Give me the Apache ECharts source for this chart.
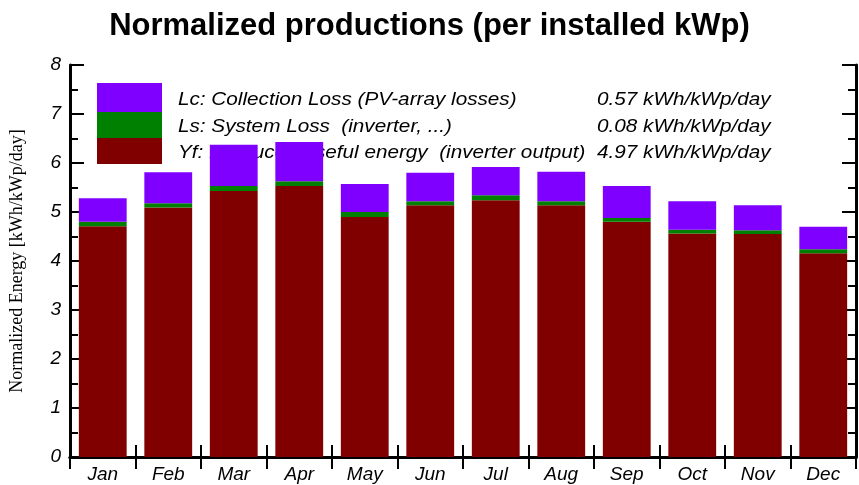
<!DOCTYPE html>
<html>
<head>
<meta charset="utf-8">
<script src="https://cdn.jsdelivr.net/npm/echarts@6/dist/echarts.min.js"></script>
<style>
html, body { margin: 0; padding: 0; background: #fff; }
#chart { width: 859px; height: 485px; }
</style>
</head>
<body>
<div id="chart"></div>
<script>
// 月份
var months = ['Jan', 'Feb', 'Mar', 'Apr', 'May', 'Jun', 'Jul', 'Aug', 'Sep', 'Oct', 'Nov', 'Dec'];
// Yf: produced useful energy
var yfValues = [4.71, 5.09, 5.43, 5.53, 4.90, 5.14, 5.24, 5.14, 4.80, 4.56, 4.55, 4.16];
// Ls: system loss
var lsValues = [0.09, 0.09, 0.10, 0.10, 0.10, 0.08, 0.10, 0.08, 0.08, 0.08, 0.08, 0.08];
// Lc: collection loss
var lcValues = [0.48, 0.63, 0.84, 0.80, 0.57, 0.58, 0.58, 0.60, 0.65, 0.58, 0.51, 0.46];

var legendLines = [
  'Lc: Collection Loss (PV-array losses)',
  'Ls: System Loss  (inverter, ...)',
  'Yf: Produced useful energy  (inverter output)'
];
var legendValues = ['0.57 kWh/kWp/day', '0.08 kWh/kWp/day', '4.97 kWh/kWp/day'];

var myChart = echarts.init(document.getElementById('chart'));

var fontSans = '"Liberation Sans", Arial, sans-serif';

var axisLine = { show: true, lineStyle: { color: '#000', width: 3 } };

// 图例(画在柱子下面)
var legendGraphics = [
  { type: 'rect', x: 97, y: 83, shape: { width: 65, height: 29 }, style: { fill: '#8000ff' }, z: 0 },
  { type: 'rect', x: 97, y: 112, shape: { width: 65, height: 26 }, style: { fill: '#008000' }, z: 0 },
  { type: 'rect', x: 97, y: 138, shape: { width: 65, height: 26 }, style: { fill: '#800000' }, z: 0 }
];
var ys = [100, 127, 153];
for (var i = 0; i < 3; i++) {
  legendGraphics.push({
    type: 'text', x: 178, y: ys[i], scaleX: 1.15, z: 0,
    style: { text: legendLines[i], fill: '#000', font: 'italic 18px ' + fontSans, verticalAlign: 'middle' }
  });
  legendGraphics.push({
    type: 'text', x: 597, y: ys[i], scaleX: 1.15, z: 0,
    style: { text: legendValues[i], fill: '#000', font: 'italic 18px ' + fontSans, verticalAlign: 'middle' }
  });
}

var option = {
  animation: false,
  backgroundColor: '#fff',
  title: {
    text: 'Normalized productions (per installed kWp)',
    left: 'center',
    top: 6,
    textStyle: { fontFamily: fontSans, fontWeight: 'bold', fontSize: 31, color: '#000' }
  },
  graphic: legendGraphics,
  grid: { left: 70, top: 65, right: 3, bottom: 28 },
  xAxis: [
    {
      type: 'category',
      data: months,
      position: 'bottom',
      axisLine: axisLine,
      axisTick: { show: true, inside: true, length: 12, lineStyle: { color: '#000', width: 2 } },
      axisLabel: { fontFamily: fontSans, fontStyle: 'italic', fontSize: 19, color: '#000', margin: 8 }
    },
    {
      type: 'category',
      data: months,
      position: 'top',
      axisLine: axisLine,
      axisTick: { show: true, inside: true, length: 12, lineStyle: { color: '#000', width: 2 } },
      axisLabel: { show: false }
    }
  ],
  yAxis: [
    {
      type: 'value',
      min: 0,
      max: 8,
      interval: 1,
      position: 'left',
      name: 'Normalized Energy [kWh/kWp/day]',
      nameLocation: 'middle',
      nameGap: 44,
      nameTextStyle: { fontFamily: '"Liberation Serif", "Times New Roman", serif', fontSize: 18, color: '#000' },
      axisLine: axisLine,
      axisTick: { show: true, inside: true, length: 14, lineStyle: { color: '#000', width: 2 } },
      minorTick: { show: true, splitNumber: 2, length: 8, lineStyle: { color: '#000', width: 2 } },
      splitLine: { show: false },
      axisLabel: { fontFamily: fontSans, fontStyle: 'italic', fontSize: 19, color: '#000', margin: 9 }
    },
    {
      type: 'value',
      min: 0,
      max: 8,
      interval: 1,
      position: 'right',
      axisLine: axisLine,
      axisTick: { show: true, inside: true, length: 14, lineStyle: { color: '#000', width: 2 } },
      minorTick: { show: true, splitNumber: 2, length: 8, lineStyle: { color: '#000', width: 2 } },
      splitLine: { show: false },
      axisLabel: { show: false }
    }
  ],
  series: [
    {
      name: 'Yf', type: 'bar', stack: 'e', data: yfValues,
      barCategoryGap: '27%', z: 2,
      itemStyle: { color: '#800000' }
    },
    {
      name: 'Ls', type: 'bar', stack: 'e', data: lsValues,
      barCategoryGap: '27%', z: 2,
      itemStyle: { color: '#008000' }
    },
    {
      name: 'Lc', type: 'bar', stack: 'e', data: lcValues,
      barCategoryGap: '27%', z: 2,
      itemStyle: { color: '#8000ff' }
    }
  ]
};
myChart.setOption(option);
</script>
</body>
</html>
